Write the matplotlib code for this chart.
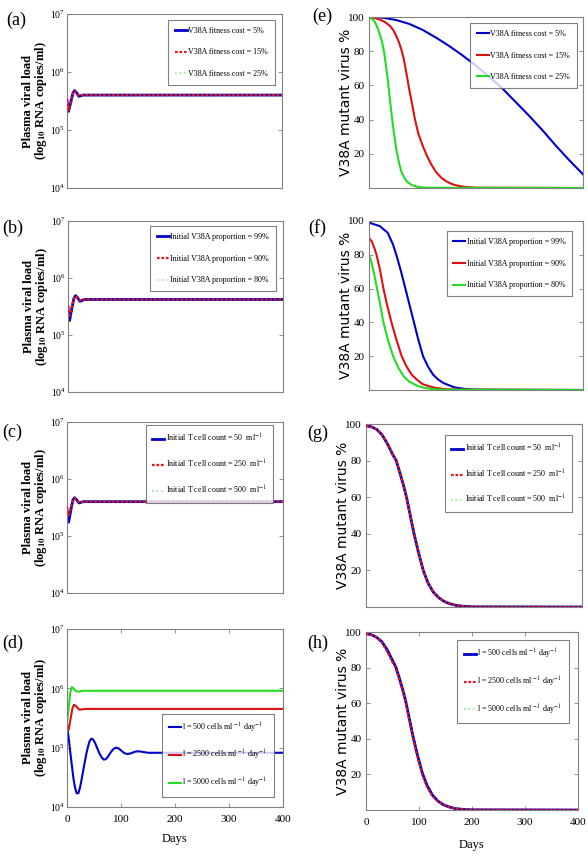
import matplotlib.pyplot as plt
from matplotlib.ticker import NullLocator, FixedLocator

plt.rcParams['font.family'] = 'Liberation Serif'
plt.rcParams['mathtext.fontset'] = 'stix'

W, H = 588, 857

days_ticks = [0, 100, 200, 300, 400]
pct_ticks = [20, 40, 60, 80, 100]

fit_labels = ['V38A fitness cost = 5%', 'V38A fitness cost = 15%', 'V38A fitness cost = 25%']
prop_labels = ['Initial V38A proportion = 99%', 'Initial V38A proportion = 90%',
               'Initial V38A proportion = 80%']
tcell_labels = ['Initial T cell count = 50  ml$^{-1}$', 'Initial T cell count = 250  ml$^{-1}$',
                'Initial T cell count = 500  ml$^{-1}$']
lam_labels = ['l = 500 cells ml $^{-1}$ day$^{-1}$', 'l = 2500 cells ml $^{-1}$ day$^{-1}$',
              'l = 5000 cells ml $^{-1}$ day$^{-1}$']

# ---- viral load panels (a)-(d) ----
vl_days = [0, 3, 7, 11, 14, 18, 22, 26, 30, 40, 400]
a_blue = [3.2e5, 2.1e5, 3.0e5, 4.3e5, 4.8e5, 4.4e5, 3.8e5, 3.9e5, 4.0e5, 4.0e5, 4.0e5]
a_red = [3.4e5, 2.2e5, 3.1e5, 4.3e5, 4.7e5, 4.4e5, 3.9e5, 3.9e5, 4.0e5, 4.0e5, 4.0e5]
a_green = [3.0e5, 1.9e5, 2.9e5, 4.2e5, 4.7e5, 4.4e5, 3.8e5, 3.9e5, 4.0e5, 4.0e5, 4.0e5]

b_blue = [3.0e5, 1.8e5, 2.9e5, 4.4e5, 4.9e5, 4.5e5, 3.9e5, 4.0e5, 4.2e5, 4.2e5, 4.2e5]
b_red = [3.3e5, 2.2e5, 3.1e5, 4.4e5, 4.8e5, 4.5e5, 4.0e5, 4.1e5, 4.2e5, 4.2e5, 4.2e5]
b_green = [2.7e5, 1.7e5, 2.8e5, 4.3e5, 4.8e5, 4.5e5, 3.9e5, 4.0e5, 4.2e5, 4.2e5, 4.2e5]

c_blue = [2.8e5, 1.75e5, 2.8e5, 4.3e5, 4.7e5, 4.3e5, 3.8e5, 3.9e5, 4.0e5, 4.0e5, 4.0e5]
c_red = [3.3e5, 2.3e5, 3.1e5, 4.3e5, 4.6e5, 4.3e5, 3.9e5, 3.9e5, 4.0e5, 4.0e5, 4.0e5]
c_green = [3.5e5, 2.6e5, 3.3e5, 4.3e5, 4.6e5, 4.3e5, 3.9e5, 3.9e5, 4.0e5, 4.0e5, 4.0e5]

d_blue_days = [0, 3, 6, 9, 12, 15, 18, 21, 24, 27, 30, 33, 36, 39, 42, 45, 48, 52, 56, 60, 64,
               68, 72, 76, 80, 85, 90, 95, 100, 106, 112, 118, 125, 132, 140, 150, 400]
d_blue = [2.3e5, 1.5e5, 8.5e4, 5.0e4, 3.0e4, 2.1e4, 1.7e4, 1.7e4, 2.1e4, 2.9e4, 4.1e4, 5.8e4,
          8.0e4, 1.05e5, 1.3e5, 1.42e5, 1.38e5, 1.2e5, 9.8e4, 8.0e4, 6.9e4, 6.3e4, 6.4e4, 7.1e4,
          8.1e4, 9.3e4, 1.0e5, 9.8e4, 9.0e4, 8.1e4, 7.8e4, 8.0e4, 8.5e4, 8.7e4, 8.5e4, 8.2e4,
          8.2e4]
d_red_days = [0, 3, 7, 10, 13, 17, 22, 27, 35, 400]
d_red = [2.5e5, 2.0e5, 3.2e5, 4.6e5, 5.3e5, 5.0e5, 4.4e5, 4.4e5, 4.5e5, 4.5e5]
d_green_days = [0, 3, 6, 9, 12, 16, 22, 30, 400]
d_green = [2.7e5, 4.5e5, 8.5e5, 1.05e6, 1.0e6, 9.0e5, 8.8e5, 9.1e5, 9.1e5]

# ---- mutant percentage panels (e)-(h) ----
e_blue_days = [0, 25, 50, 75, 100, 125, 150, 175, 200, 225, 250, 275, 300, 325, 350, 375, 400]
e_blue = [100, 99.6, 98.3, 96, 92.5, 88, 83, 77.5, 71.5, 65, 58, 50, 42, 33.5, 24.5, 16, 8]
e_red_days = [0, 10, 20, 30, 40, 45, 50, 55, 60, 65, 70, 75, 80, 86, 92, 100, 108, 116, 125,
              135, 145, 155, 165, 180, 200, 400]
e_red = [100, 99.5, 98.5, 97, 94.5, 92.5, 89.5, 86, 81.5, 75.5, 67, 58, 50, 40, 32, 25, 19, 14,
         9.5, 6, 3.8, 2.3, 1.4, 0.6, 0.2, 0]
e_green_days = [0, 5, 10, 15, 20, 24, 28, 32, 36, 39, 43, 47, 52, 56, 60, 65, 70, 80, 90, 100,
                120, 400]
e_green = [100, 99, 97.5, 94.5, 90, 86, 80, 71, 61, 52, 41, 31, 21, 15, 10, 6.5, 4, 1.7, 0.7,
           0.3, 0.1, 0]

f_blue_days = [0, 20, 35, 45, 52, 60, 68, 76, 84, 92, 101, 110, 120, 130, 140, 160, 180, 200, 400]
f_blue = [99, 97, 93, 86, 79, 70, 60, 50, 40, 30, 20, 14, 9, 6, 4, 1.5, 0.6, 0.2, 0]
f_red_days = [0, 5, 10, 14, 20, 27, 34, 42, 51, 61, 70, 80, 90, 100, 120, 140, 160, 400]
f_red = [90, 88, 84, 80, 72, 60, 50, 40, 30, 20, 14, 9, 6, 3.5, 1.5, 0.6, 0.2, 0]
f_green_days = [0, 5, 10, 15, 20, 27, 35, 45, 55, 65, 75, 90, 100, 120, 140, 400]
f_green = [80, 75, 68, 60, 52, 40, 30, 20, 13, 8, 5, 2.5, 1.5, 0.5, 0.2, 0]

g_days = [0, 10, 20, 30, 40, 50, 56, 62, 69, 75, 82, 89, 97, 106, 115, 125, 135, 145, 155, 168,
          185, 200, 400]
g_vals = [99, 98.5, 97, 94, 89, 83, 80, 74, 67, 60, 50, 40, 30, 20, 13, 8, 5, 3, 1.8, 0.8, 0.3,
          0.1, 0]
h_vals = [99, 98.5, 97, 94.5, 90, 84, 80.5, 75, 68, 61, 51, 41, 31, 21, 14, 8.5, 5.2, 3.1, 1.9,
          0.8, 0.3, 0.1, 0]

fig = plt.figure(figsize=(W / 100, H / 100), dpi=100)


def make_ax(l, t, r, b):
    ax = fig.add_axes([l / W, 1 - b / H, (r - l) / W, (b - t) / H])
    ax.set_xlim(0, 400)
    for s in ax.spines.values():
        s.set_color('#808080')
        s.set_linewidth(0.8)
    ax.tick_params(direction='in', top=True, right=True, length=3, width=0.6,
                   color='#808080', labelsize=8, pad=3)
    ax.tick_params(axis='x', pad=6)
    return ax


def viral(ax, days_x, show_x):
    ax.set_yscale('log')
    ax.set_ylim(1e4, 1e7)
    ax.yaxis.set_minor_locator(NullLocator())
    ax.tick_params(axis='y', labelsize=7, pad=1.5)
    ax.set_ylabel('Plasma viral load\n(log$_{\\mathbf{10}}$ RNA copies/ml)', fontsize=9,
                  fontweight='bold', linespacing=0.92)
    ax.yaxis.set_label_coords(-0.085, 0.5)
    if show_x:
        ax.xaxis.set_major_locator(FixedLocator(days_x))
        ax.set_xlabel('Days', fontsize=9)
    else:
        ax.set_xticks([])


def mutant(ax, days_x, show_x):
    ax.set_ylim(0, 100)
    ax.set_yticks(pct_ticks)
    ax.set_ylabel('V38A mutant virus %', fontsize=10, family='DejaVu Sans')
    ax.yaxis.set_label_coords(-0.075, 0.5)
    if show_x:
        ax.xaxis.set_major_locator(FixedLocator(days_x))
        ax.set_xlabel('Days', fontsize=9)
    else:
        ax.set_xticks([])


def overlap_lines(ax, x, ys, labels):
    ax.plot(x[0], ys[0], color='#0000c8', lw=2.0, zorder=2, label=labels[0])
    ax.plot(x[1], ys[1], color='#e8141c', lw=1.6, ls=(0, (1.2, 0.8)), zorder=3, label=labels[1])
    ax.plot(x[2], ys[2], color='#90ee90', lw=1.2, ls=':', zorder=1, label=labels[2])


def solid_lines(ax, x, ys, labels):
    ax.plot(x[0], ys[0], color='#0000cc', lw=1.5, label=labels[0])
    ax.plot(x[1], ys[1], color='#dd1111', lw=1.5, label=labels[1])
    ax.plot(x[2], ys[2], color='#22dd22', lw=1.5, label=labels[2])


def legend(ax, loc, anchor):
    leg = ax.legend(loc=loc, bbox_to_anchor=anchor, fontsize=5.8, frameon=True, fancybox=False,
                    edgecolor='#606060', labelspacing=1.7, handlelength=1.5, handletextpad=0.15,
                    borderpad=0.85, borderaxespad=0)
    leg.get_frame().set_linewidth(0.8)


# (a)
ax = make_ax(67, 14, 282, 188)
viral(ax, days_ticks, False)
overlap_lines(ax, [vl_days] * 3, [a_blue, a_red, a_green], fit_labels)
legend(ax, 'upper right', (0.967, 0.966))

# (b)
ax = make_ax(68, 221, 283, 392)
viral(ax, days_ticks, False)
overlap_lines(ax, [vl_days] * 3, [b_blue, b_red, b_green], prop_labels)
legend(ax, 'upper right', (0.967, 0.97))

# (c)
ax = make_ax(67, 422, 283, 593)
viral(ax, days_ticks, False)
overlap_lines(ax, [vl_days] * 3, [c_blue, c_red, c_green], tcell_labels)
legend(ax, 'upper right', (0.954, 0.98))

# (d)
ax = make_ax(67, 629, 283, 807)
viral(ax, days_ticks, True)
ax.tick_params(axis='x', labelsize=8)
ax.xaxis.set_label_coords(0.5, -0.146)
solid_lines(ax, [d_blue_days, d_red_days, d_green_days], [d_blue, d_red, d_green], lam_labels)
legend(ax, 'lower right', (0.958, 0.056))

# (e)
ax = make_ax(369, 17, 583, 188)
mutant(ax, days_ticks, False)
solid_lines(ax, [e_blue_days, e_red_days, e_green_days], [e_blue, e_red, e_green], fit_labels)
legend(ax, 'upper right', (0.972, 0.965))

# (f)
ax = make_ax(369, 221, 583, 390)
mutant(ax, days_ticks, False)
solid_lines(ax, [f_blue_days, f_red_days, f_green_days], [f_blue, f_red, f_green], prop_labels)
legend(ax, 'upper right', (0.95, 0.94))

# (g)
ax = make_ax(366, 424, 582, 607)
mutant(ax, days_ticks, False)
overlap_lines(ax, [g_days] * 3, [g_vals, g_vals, g_vals], tcell_labels)
legend(ax, 'upper right', (0.954, 0.94))

# (h)
ax = make_ax(366, 632, 578, 810)
mutant(ax, days_ticks, True)
ax.xaxis.set_label_coords(0.5, -0.163)
overlap_lines(ax, [g_days] * 3, [h_vals, g_vals, h_vals], lam_labels)
legend(ax, 'upper right', (0.957, 0.955))

# panel letters
for letter, px, py in [('(a)', 16, 20), ('(b)', 13, 228), ('(c)', 12, 432), ('(d)', 13, 643),
                       ('(e)', 322, 16), ('(f)', 317, 228), ('(g)', 318, 433), ('(h)', 318, 643)]:
    fig.text(px / W, 1 - py / H, letter, fontsize=13, ha='center', va='center')

fig.savefig('out.png', dpi=100)
